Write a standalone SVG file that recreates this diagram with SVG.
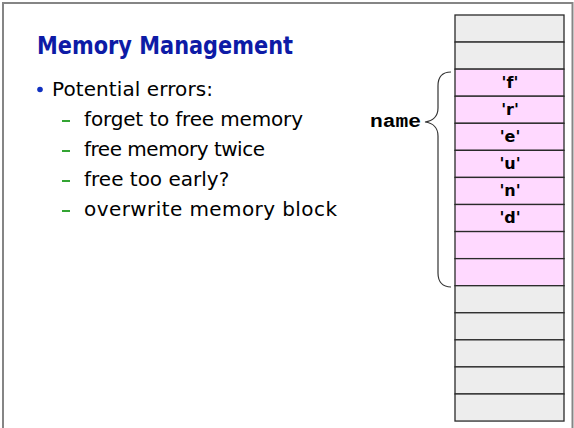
<svg xmlns="http://www.w3.org/2000/svg" width="574" height="428" viewBox="0 0 574 428">
  <style>
    .frame { fill: none; stroke: #858585; stroke-width: 2; }
    .title { font-family: "DejaVu Sans", "Liberation Sans", sans-serif; font-weight: bold; font-size: 24px; fill: #0D1BA6; }
    .body { font-family: "DejaVu Sans", "Liberation Sans", sans-serif; font-size: 20px; fill: #000; }
    .dash { stroke: #1C9A1C; stroke-width: 1.8; }
    .cell-free { fill: #EDEDED; stroke: #2a2a2a; stroke-width: 1.3; }
    .cell-used { fill: #FFD9FF; stroke: #2a2a2a; stroke-width: 1.3; }
    .chr { font-family: "DejaVu Sans", "Liberation Sans", sans-serif; font-weight: bold; font-size: 16px; fill: #000; text-anchor: middle; }
    .code { font-family: "Liberation Mono", "Courier New", monospace; font-weight: bold; font-size: 19px; fill: #000; }
    .brace { fill: none; stroke: #333; stroke-width: 1.2; }
  </style>

  <!-- slide frame -->
  <path class="frame" d="M3,428 V3 H572.5 V428"/>

  <!-- heading and bullet list -->
  <g id="heading">
    <text class="title" x="37" y="54" textLength="256" lengthAdjust="spacingAndGlyphs">Memory Management</text>
  </g>
  <g id="errors">
    <circle cx="40" cy="89.5" r="2.8" fill="#1030C0"/>
    <text class="body" x="52" y="96" textLength="161" lengthAdjust="spacing">Potential errors:</text>
    <line class="dash" x1="62" y1="121" x2="70" y2="121"/>
    <text class="body" x="84" y="126" textLength="219" lengthAdjust="spacing">forget to free memory</text>
    <line class="dash" x1="62" y1="151" x2="70" y2="151"/>
    <text class="body" x="84" y="156" textLength="181" lengthAdjust="spacing">free memory twice</text>
    <line class="dash" x1="62" y1="181" x2="70" y2="181"/>
    <text class="body" x="84" y="186">free too early?</text>
    <line class="dash" x1="62" y1="211" x2="70" y2="211"/>
    <text class="body" x="84" y="216" textLength="253" lengthAdjust="spacing">overwrite memory block</text>
  </g>

  <!-- memory column: 15 cells of 27.07px -->
  <g id="mem-0"><rect class="cell-free" x="455" y="15" width="109" height="27.07"/></g>
  <g id="mem-1"><rect class="cell-free" x="455" y="42.07" width="109" height="27.07"/></g>
  <g id="mem-2"><rect class="cell-used" x="455" y="69.14" width="109" height="27.07"/><text class="chr" x="510" y="88">'f'</text></g>
  <g id="mem-3"><rect class="cell-used" x="455" y="96.21" width="109" height="27.07"/><text class="chr" x="510" y="115">'r'</text></g>
  <g id="mem-4"><rect class="cell-used" x="455" y="123.28" width="109" height="27.07"/><text class="chr" x="510" y="142">'e'</text></g>
  <g id="mem-5"><rect class="cell-used" x="455" y="150.35" width="109" height="27.07"/><text class="chr" x="510" y="169">'u'</text></g>
  <g id="mem-6"><rect class="cell-used" x="455" y="177.42" width="109" height="27.07"/><text class="chr" x="510" y="196">'n'</text></g>
  <g id="mem-7"><rect class="cell-used" x="455" y="204.49" width="109" height="27.07"/><text class="chr" x="510" y="223">'d'</text></g>
  <g id="mem-8"><rect class="cell-used" x="455" y="231.56" width="109" height="27.07"/></g>
  <g id="mem-9"><rect class="cell-used" x="455" y="258.63" width="109" height="27.07"/></g>
  <g id="mem-10"><rect class="cell-free" x="455" y="285.7" width="109" height="27.07"/></g>
  <g id="mem-11"><rect class="cell-free" x="455" y="312.77" width="109" height="27.07"/></g>
  <g id="mem-12"><rect class="cell-free" x="455" y="339.84" width="109" height="27.07"/></g>
  <g id="mem-13"><rect class="cell-free" x="455" y="366.91" width="109" height="27.07"/></g>
  <g id="mem-14"><rect class="cell-free" x="455" y="393.98" width="109" height="27.07"/></g>

  <!-- variable label -->
  <g id="name-label">
    <text class="code" x="370" y="127" textLength="51" lengthAdjust="spacingAndGlyphs">name</text>
  </g>

  <!-- brace spanning the allocated block -->
  <g id="connectors">
    <path class="brace" d="M451,72 C443,72 438,76 438,86 L438,108 C438,116 433,121 425,122 C433,123 438,128 438,136 L438,273 C438,282 443,287 451,287"/>
  </g>
</svg>
